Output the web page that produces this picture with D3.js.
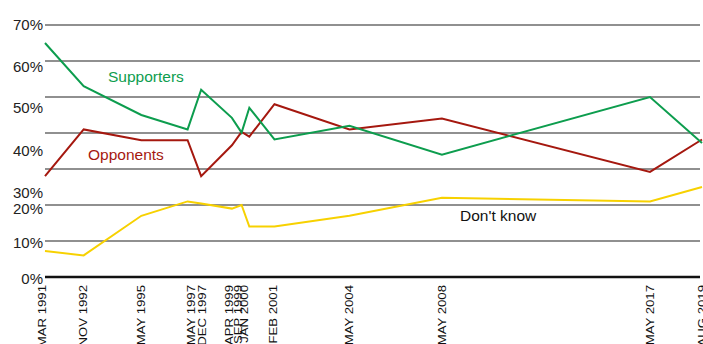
<!DOCTYPE html>
<html>
<head>
<meta charset="utf-8">
<script src="https://cdn.jsdelivr.net/npm/d3@7"></script>
<style>
  html, body { margin: 0; padding: 0; background: #fff; }
  svg { display: block; font-family: "Liberation Sans", Arial, sans-serif; }
</style>
</head>
<body>
<svg id="chart" width="703" height="344"></svg>
<script>
// ---- data ----
const dates = ["1991-03", "1992-11", "1995-05", "1997-05", "1997-12", "1999-04", "1999-09", "2000-01", "2001-02", "2004-05", "2008-05", "2017-05", "2019-08"];
const dateLabels = ["MAR 1991", "NOV 1992", "MAY 1995", "MAY 1997", "DEC 1997", "APR 1999", "SEP 1999", "JAN 2000", "FEB 2001", "MAY 2004", "MAY 2008", "MAY 2017", "AUG 2019"];
const supporters = [65, 53, 45, 41, 52, 44.2, 40.1, 47, 38.2, 42, 34, 50, 37.2];
const opponents  = [28, 41, 38, 38, 28, 36.6, 40.3, 39, 48, 41, 44, 29.2, 38.2];
const dontKnow   = [7.2, 6, 17, 21, 20.4, 19, 20, 14, 14, 17, 22, 21, 25];
const gridValues = [70, 60, 50, 40, 30, 20, 10, 0];
const yTickLabels = ["70%", "60%", "50%", "40%", "30%", "20%", "10%", "0%"];

// ---- layout ----
const svg = d3.select("#chart");
const parse = d3.timeParse("%Y-%m");
const dts = dates.map(parse);
const x = d3.scaleTime().domain([dts[0], dts[dts.length - 1]]).range([45, 702]);
const y = d3.scaleLinear().domain([0, 70]).range([277, 25]);

// label nudges reproducing the reference's tick-label placement
const yLabelNudge = [0, 5.7, 11, 18, 24, 4, 2, 2];
const xLabelNudge = [-3, -1, 0, 3.5, 0.5, -2.5, -4, -5, -1.5, 0, 0, 0, 0];

// gridlines
svg.append("g").selectAll("line").data(gridValues.filter(v => v !== 0)).join("line")
  .attr("x1", 45).attr("x2", 700)
  .attr("y1", d => y(d)).attr("y2", d => y(d))
  .attr("stroke", "#6b6b6b").attr("stroke-width", 1.6);

// y tick labels
svg.append("g").selectAll("text").data(gridValues).join("text")
  .attr("x", 43)
  .attr("y", (d, i) => y(d) + yLabelNudge[i])
  .attr("dy", "0.36em")
  .attr("text-anchor", "end")
  .attr("font-size", 15)
  .attr("fill", "#222")
  .text((d, i) => yTickLabels[i]);

// x labels
svg.append("g").selectAll("text").data(dts).join("text")
  .attr("transform", (d, i) => `translate(${x(d) + xLabelNudge[i]},285) rotate(-90) scale(1.2,1)`)
  .attr("dy", "0.36em")
  .attr("text-anchor", "end")
  .attr("font-size", 11)
  .attr("fill", "#111")
  .text((d, i) => dateLabels[i]);

// series lines
const line = vals => d3.line().x((d, i) => x(dts[i])).y(d => y(d))(vals);
const series = [
  { vals: dontKnow, color: "#f7d100" },
  { vals: opponents, color: "#a5180f" },
  { vals: supporters, color: "#0d9d4e" }
];
svg.append("g").selectAll("path").data(series).join("path")
  .attr("d", s => line(s.vals))
  .attr("fill", "none")
  .attr("stroke", s => s.color)
  .attr("stroke-width", 2)
  .attr("stroke-linejoin", "miter");

// zero axis
svg.append("line")
  .attr("x1", 45).attr("x2", 700)
  .attr("y1", y(0)).attr("y2", y(0))
  .attr("stroke", "#111").attr("stroke-width", 2.6);

// series labels
svg.append("text").attr("x", 108).attr("y", 81.5).attr("font-size", 15.5)
  .attr("fill", "#0d9d4e").text("Supporters");
svg.append("text").attr("x", 88).attr("y", 160).attr("font-size", 15.5)
  .attr("fill", "#a5180f").text("Opponents");
svg.append("text").attr("x", 460).attr("y", 221).attr("font-size", 15.5)
  .attr("fill", "#111").text("Don't know");
</script>
</body>
</html>
